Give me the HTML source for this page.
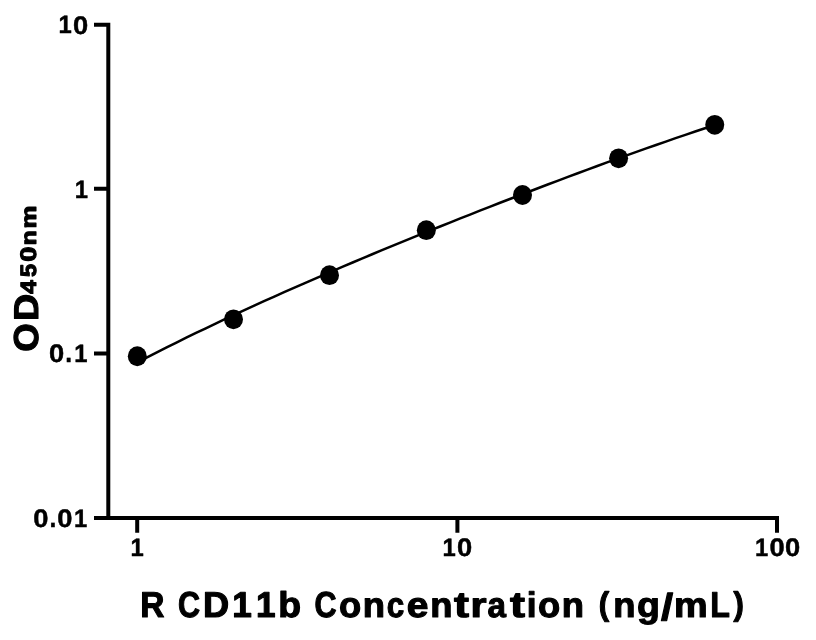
<!DOCTYPE html>
<html>
<head>
<meta charset="utf-8">
<title>R CD11b standard curve</title>
<style>
html,body{margin:0;padding:0;background:#fff;width:816px;height:640px;overflow:hidden;}
svg{display:block;will-change:transform;}
text{font-family:"Liberation Sans", sans-serif;font-weight:bold;fill:#000;font-kerning:none;text-rendering:geometricPrecision;}
</style>
</head>
<body>
<svg width="816" height="640" viewBox="0 0 816 640">
<rect x="0" y="0" width="816" height="640" fill="#fff"/>
<path fill="#000" d="M94 22.7H110.3V515.9H779V532.75H775V519.9H459.4V532.75H455.4V519.9H139.2V532.75H135.2V519.9H94V515.9H106.3V355.6H94V351.6H106.3V190.75H94V186.75H106.3V26.7H94Z"/>
<g>
<text stroke="#000" stroke-width="0.45" stroke-linejoin="round"><tspan x="58.45" y="33.48" font-size="25.09" textLength="13.23" lengthAdjust="spacingAndGlyphs">1</tspan><tspan x="73.00" y="33.57" font-size="25.32" textLength="15.19" lengthAdjust="spacingAndGlyphs">0</tspan></text>
<text stroke="#000" stroke-width="0.45" stroke-linejoin="round"><tspan x="74.81" y="197.53" font-size="25.09" textLength="13.23" lengthAdjust="spacingAndGlyphs">1</tspan></text>
<text stroke="#000" stroke-width="0.45" stroke-linejoin="round"><tspan x="49.08" y="362.47" font-size="25.32" textLength="15.19" lengthAdjust="spacingAndGlyphs">0</tspan><tspan x="65.28" y="362.38" font-size="27.81" textLength="6.87" lengthAdjust="spacingAndGlyphs">.</tspan><tspan x="74.21" y="362.38" font-size="25.09" textLength="13.23" lengthAdjust="spacingAndGlyphs">1</tspan></text>
<text stroke="#000" stroke-width="0.45" stroke-linejoin="round"><tspan x="33.29" y="526.77" font-size="25.32" textLength="15.19" lengthAdjust="spacingAndGlyphs">0</tspan><tspan x="49.49" y="526.67" font-size="27.81" textLength="6.87" lengthAdjust="spacingAndGlyphs">.</tspan><tspan x="57.39" y="526.77" font-size="25.32" textLength="15.19" lengthAdjust="spacingAndGlyphs">0</tspan><tspan x="74.01" y="526.67" font-size="25.09" textLength="13.23" lengthAdjust="spacingAndGlyphs">1</tspan></text>
</g>
<g>
<text stroke="#000" stroke-width="0.45" stroke-linejoin="round"><tspan x="130.47" y="556.27" font-size="25.09" textLength="13.23" lengthAdjust="spacingAndGlyphs">1</tspan></text>
<text stroke="#000" stroke-width="0.45" stroke-linejoin="round"><tspan x="442.49" y="556.27" font-size="25.09" textLength="13.23" lengthAdjust="spacingAndGlyphs">1</tspan><tspan x="457.04" y="556.37" font-size="25.32" textLength="15.19" lengthAdjust="spacingAndGlyphs">0</tspan></text>
<text stroke="#000" stroke-width="0.45" stroke-linejoin="round"><tspan x="754.90" y="556.27" font-size="25.09" textLength="13.23" lengthAdjust="spacingAndGlyphs">1</tspan><tspan x="769.45" y="556.37" font-size="25.32" textLength="15.19" lengthAdjust="spacingAndGlyphs">0</tspan><tspan x="785.03" y="556.37" font-size="25.32" textLength="15.19" lengthAdjust="spacingAndGlyphs">0</tspan></text>
</g>
<path d="M137.30 362.39 L147.09 357.34 L156.87 352.35 L166.66 347.43 L176.45 342.56 L186.24 337.74 L196.02 332.98 L205.81 328.27 L215.60 323.61 L225.39 318.99 L235.17 314.42 L244.96 309.90 L254.75 305.41 L264.53 300.96 L274.32 296.56 L284.11 292.19 L293.90 287.85 L303.68 283.55 L313.47 279.28 L323.26 275.04 L333.05 270.83 L342.83 266.65 L352.62 262.49 L362.41 258.37 L372.19 254.27 L381.98 250.19 L391.77 246.14 L401.56 242.12 L411.34 238.11 L421.13 234.13 L430.92 230.17 L440.71 226.23 L450.49 222.31 L460.28 218.42 L470.07 214.54 L479.86 210.68 L489.64 206.85 L499.43 203.03 L509.22 199.24 L519.00 195.46 L528.79 191.71 L538.58 187.97 L548.37 184.26 L558.15 180.57 L567.94 176.90 L577.73 173.25 L587.52 169.63 L597.30 166.03 L607.09 162.45 L616.88 158.90 L626.66 155.38 L636.45 151.88 L646.24 148.41 L656.03 144.97 L665.81 141.56 L675.60 138.19 L685.39 134.84 L695.18 131.53 L704.96 128.25 L714.75 125.02" fill="none" stroke="#000" stroke-width="2.5"/>
<g fill="#000">
<ellipse cx="137.30" cy="356.25" rx="9.5" ry="9.9"/>
<ellipse cx="233.50" cy="319.30" rx="9.5" ry="9.9"/>
<ellipse cx="329.50" cy="275.20" rx="9.5" ry="9.9"/>
<ellipse cx="426.30" cy="230.20" rx="9.5" ry="9.9"/>
<ellipse cx="522.50" cy="195.00" rx="9.5" ry="9.9"/>
<ellipse cx="618.60" cy="158.35" rx="9.5" ry="9.9"/>
<ellipse cx="714.75" cy="124.80" rx="9.5" ry="9.9"/>
</g>
<text stroke="#000" stroke-width="1.1" stroke-linejoin="round"><tspan x="140.31" y="617.15" font-size="35.91" textLength="24.21" lengthAdjust="spacingAndGlyphs">R</tspan> <tspan x="177.89" y="617.30" font-size="36.26" textLength="22.07" lengthAdjust="spacingAndGlyphs">C</tspan><tspan x="203.10" y="617.15" font-size="35.91" textLength="26.17" lengthAdjust="spacingAndGlyphs">D</tspan><tspan x="232.24" y="617.15" font-size="35.91" textLength="19.58" lengthAdjust="spacingAndGlyphs">1</tspan><tspan x="255.90" y="617.15" font-size="35.91" textLength="19.58" lengthAdjust="spacingAndGlyphs">1</tspan><tspan x="278.32" y="617.30" font-size="35.81" textLength="22.86" lengthAdjust="spacingAndGlyphs">b</tspan> <tspan x="314.55" y="617.30" font-size="36.26" textLength="22.07" lengthAdjust="spacingAndGlyphs">C</tspan><tspan x="339.11" y="617.31" font-size="35.10" textLength="22.17" lengthAdjust="spacingAndGlyphs">o</tspan><tspan x="362.88" y="617.15" font-size="34.77" textLength="22.25" lengthAdjust="spacingAndGlyphs">n</tspan><tspan x="386.86" y="617.31" font-size="35.10" textLength="17.47" lengthAdjust="spacingAndGlyphs">c</tspan><tspan x="406.72" y="617.31" font-size="35.10" textLength="21.71" lengthAdjust="spacingAndGlyphs">e</tspan><tspan x="430.29" y="617.15" font-size="34.77" textLength="22.25" lengthAdjust="spacingAndGlyphs">n</tspan><tspan x="453.94" y="616.83" font-size="35.93" textLength="15.03" lengthAdjust="spacingAndGlyphs">t</tspan><tspan x="470.43" y="617.15" font-size="34.77" textLength="16.06" lengthAdjust="spacingAndGlyphs">r</tspan><tspan x="487.55" y="617.31" font-size="35.10" textLength="18.47" lengthAdjust="spacingAndGlyphs">a</tspan><tspan x="509.91" y="616.83" font-size="35.93" textLength="15.03" lengthAdjust="spacingAndGlyphs">t</tspan><tspan x="526.65" y="617.15" font-size="35.60" textLength="9.81" lengthAdjust="spacingAndGlyphs">i</tspan><tspan x="537.96" y="617.31" font-size="35.10" textLength="22.17" lengthAdjust="spacingAndGlyphs">o</tspan><tspan x="561.73" y="617.15" font-size="34.77" textLength="22.25" lengthAdjust="spacingAndGlyphs">n</tspan> <tspan x="598.69" y="615.04" font-size="32.64" textLength="10.38" lengthAdjust="spacingAndGlyphs">(</tspan><tspan x="613.31" y="617.15" font-size="34.77" textLength="22.25" lengthAdjust="spacingAndGlyphs">n</tspan><tspan x="637.05" y="617.35" font-size="35.09" textLength="22.90" lengthAdjust="spacingAndGlyphs">g</tspan><tspan x="660.97" y="619.68" font-size="37.59" textLength="12.17" lengthAdjust="spacingAndGlyphs">/</tspan><tspan x="674.14" y="617.15" font-size="34.77" textLength="33.66" lengthAdjust="spacingAndGlyphs">m</tspan><tspan x="710.21" y="617.15" font-size="35.91" textLength="19.66" lengthAdjust="spacingAndGlyphs">L</tspan><tspan x="733.60" y="615.04" font-size="32.64" textLength="10.38" lengthAdjust="spacingAndGlyphs">)</tspan></text>
<g transform="translate(38.1,0) rotate(-90)">
<text stroke="#000" stroke-width="1.1" stroke-linejoin="round"><tspan x="-351.65" y="-0.41" font-size="34.55" textLength="28.49" lengthAdjust="spacingAndGlyphs">O</tspan><tspan x="-321.10" y="-0.55" font-size="34.22" textLength="27.30" lengthAdjust="spacingAndGlyphs">D</tspan></text>
<text stroke="#000" stroke-width="1.1" stroke-linejoin="round"><tspan x="-293.82" y="-2.40" font-size="22.14" textLength="13.60" lengthAdjust="spacingAndGlyphs">4</tspan><tspan x="-277.09" y="-2.30" font-size="22.28" textLength="13.17" lengthAdjust="spacingAndGlyphs">5</tspan><tspan x="-261.80" y="-2.30" font-size="22.38" textLength="15.18" lengthAdjust="spacingAndGlyphs">0</tspan><tspan x="-245.15" y="-2.40" font-size="21.25" textLength="14.93" lengthAdjust="spacingAndGlyphs">n</tspan><tspan x="-228.55" y="-2.40" font-size="21.25" textLength="22.84" lengthAdjust="spacingAndGlyphs">m</tspan></text>
</g>
</svg>
</body>
</html>
